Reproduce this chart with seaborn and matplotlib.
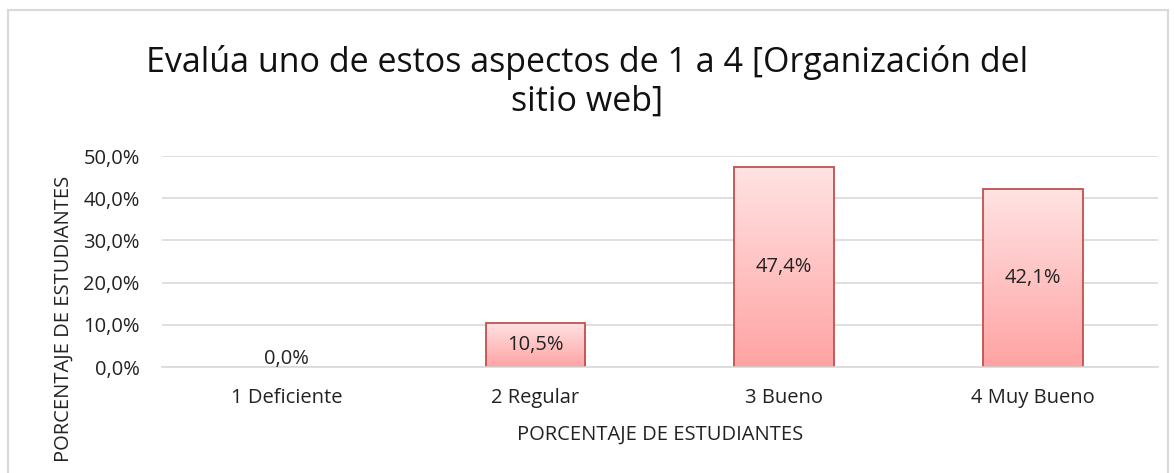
import numpy as np
import pandas as pd
import matplotlib.pyplot as plt
import seaborn as sns
from matplotlib.patches import Rectangle
from matplotlib.colors import LinearSegmentedColormap

categorias = ["1 Deficiente", "2 Regular", "3 Bueno", "4 Muy Bueno"]
porcentajes = [0.0, 10.5, 47.4, 42.1]
yticks = [0, 10, 20, 30, 40, 50]

titulo = "Evalúa uno de estos aspectos de 1 a 4 [Organización del\nsitio web]"
etiqueta = "PORCENTAJE DE ESTUDIANTES"

df = pd.DataFrame({"categoria": categorias, "porcentaje": porcentajes})

sns.set_style("white")
plt.rcParams["font.family"] = ["Open Sans", "DejaVu Sans"]

fig = plt.figure(figsize=(11.74, 4.73), dpi=100)
ax = fig.add_axes([0.138, 0.224, 0.848, 0.446])

sns.barplot(data=df, x="categoria", y="porcentaje", ax=ax, width=0.4,
            color="#ffb3b3", edgecolor="#c0504d", linewidth=1.3)

# gradient fill inside each bar
cmap = LinearSegmentedColormap.from_list("grad", ["#ffa3a3", "#ffe3e3"])
grad = np.linspace(0, 1, 256).reshape(-1, 1)
for p in ax.patches:
    x0, y0 = p.get_x(), p.get_y()
    w, h = p.get_width(), p.get_height()
    if h <= 0:
        p.set_linewidth(0)
        continue
    p.set_facecolor("none")
    im = ax.imshow(grad, cmap=cmap, origin="lower", aspect="auto",
                   extent=[x0, x0 + w, y0, y0 + h], zorder=p.get_zorder() - 0.1)
    im.set_clip_path(p)

ax.set_xlim(-0.5, len(categorias) - 0.5)
ax.set_ylim(0, 50)
ax.set_yticks(yticks)
ax.set_yticklabels([f"{t:.1f}%".replace(".", ",") for t in yticks])
ax.grid(axis="y", color="#d9d9d9", linewidth=1.2)
ax.set_axisbelow(True)
for s in ["top", "right", "left"]:
    ax.spines[s].set_visible(False)
ax.spines["bottom"].set_color("#d9d9d9")
ax.spines["bottom"].set_linewidth(1.2)
ax.tick_params(axis="both", length=0, labelsize=14.5, colors="#222222")
ax.tick_params(axis="y", pad=16)
ax.tick_params(axis="x", pad=15)

for i, v in enumerate(porcentajes):
    txt = f"{v:.1f}%".replace(".", ",")
    if v > 0:
        ax.text(i, v / 2, txt, ha="center", va="center", fontsize=14.5, color="#222222")
    else:
        ax.text(i, -0.4, txt, ha="center", va="bottom", fontsize=14.5, color="#222222")

ax.set_xlabel(etiqueta, fontsize=14.5, color="#222222", labelpad=12)
ax.set_ylabel(etiqueta, fontsize=14.5, color="#222222")
ax.yaxis.set_label_coords(-0.089, 0.23)

fig.suptitle(titulo, fontsize=24.5, y=0.905, color="#111111", linespacing=1.2)

fig.patches.append(Rectangle((8 / 1174, -0.01), 1160 / 1174, 1 - 10 / 473 + 0.01,
                             transform=fig.transFigure, fill=False,
                             edgecolor="#d9d9d9", linewidth=1.5))

fig.savefig("out.png", dpi=100)
